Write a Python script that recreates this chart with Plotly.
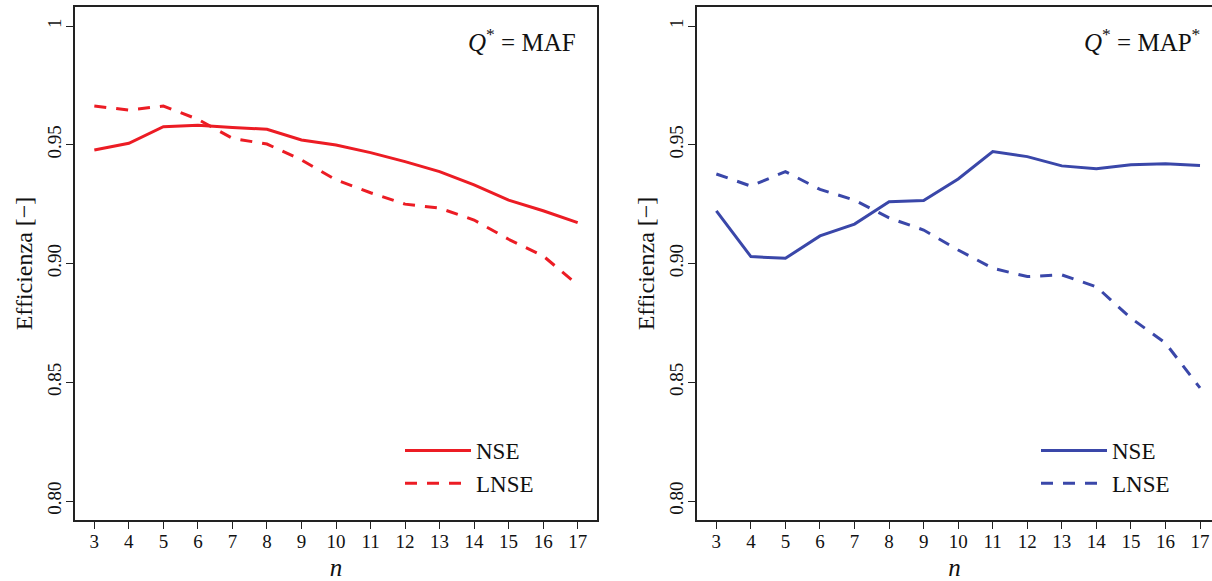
import plotly.graph_objects as go

n_vals = list(range(3, 18))

maf_nse = [0.9478, 0.9506, 0.9576, 0.9582, 0.9573, 0.9565, 0.9520, 0.9499,
           0.9467, 0.9429, 0.9387, 0.9331, 0.9267, 0.9222, 0.9172]
maf_lnse = [0.9663, 0.9646, 0.9663, 0.9607, 0.9527, 0.9503, 0.9436, 0.9352,
            0.9298, 0.9250, 0.9233, 0.9183, 0.9102, 0.9032, 0.8910]
map_nse = [0.9222, 0.9029, 0.9022, 0.9116, 0.9166, 0.9260, 0.9265, 0.9356,
           0.9471, 0.9450, 0.9411, 0.9399, 0.9416, 0.9420, 0.9413]
map_lnse = [0.9377, 0.9326, 0.9387, 0.9312, 0.9267, 0.9192, 0.9141, 0.9057,
            0.8980, 0.8945, 0.8952, 0.8902, 0.8770, 0.8665, 0.8476]

y_ticks = [0.80, 0.85, 0.90, 0.95, 1.0]
y_ticktext = ["0.80", "0.85", "0.90", "0.95", "1"]
series_names = ["NSE", "LNSE"]
panel_titles = ["<i>Q</i><sup>*</sup> = MAF", "<i>Q</i><sup>*</sup> = MAP<sup>*</sup>"]

RED = "#EC1C24"
BLUE = "#3A47A9"
FONT = "Liberation Serif"
W, H = 1212, 581

fig = go.Figure()

def add(x, y, color, dash, name, xa, ya, legend):
    fig.add_trace(go.Scatter(
        x=x, y=y, mode="lines", name=name,
        line=dict(color=color, width=3, dash=dash),
        xaxis=xa, yaxis=ya, legend=legend, showlegend=True))

add(n_vals, maf_nse, RED, "solid", series_names[0], "x", "y", "legend")
add(n_vals, maf_lnse, RED, "12px,10px", series_names[1], "x", "y", "legend")
add(n_vals, map_nse, BLUE, "solid", series_names[0], "x2", "y2", "legend2")
add(n_vals, map_lnse, BLUE, "12px,10px", series_names[1], "x2", "y2", "legend2")

ydom = [(H - 520) / H, (H - 7) / H]
xcommon = dict(
    tickmode="array", tickvals=n_vals, ticktext=[str(v) for v in n_vals],
    ticks="outside", ticklen=7, tickwidth=1.2, tickcolor="#222",
    showline=True, linecolor="#222", linewidth=1.5, showgrid=False, zeroline=False,
    tickfont=dict(family=FONT, size=19, color="#111"), ticklabelstandoff=-4,
    title=dict(text="<i>n</i>", font=dict(family=FONT, size=25, color="#111"), standoff=10),
)
ycommon = dict(
    range=[0.792, 1.008], domain=ydom,
    tickmode="array", tickvals=y_ticks, ticktext=y_ticktext, tickangle=-90,
    ticks="outside", ticklen=7, tickwidth=1.2, tickcolor="#222",
    showline=True, linecolor="#222", linewidth=1.5, showgrid=False, zeroline=False,
    tickfont=dict(family=FONT, size=19, color="#111"), ticklabelstandoff=-2,
    title=dict(text="Efficienza [−]", font=dict(family=FONT, size=24, color="#111"), standoff=4),
)

legend_common = dict(xanchor="left", yanchor="top", bgcolor="rgba(0,0,0,0)",
                     font=dict(family=FONT, size=23, color="#111"),
                     tracegroupgap=0, itemwidth=66)

fig.update_layout(
    width=W, height=H, margin=dict(l=0, r=0, t=0, b=0),
    paper_bgcolor="white", plot_bgcolor="white",
    xaxis=dict(domain=[75 / W, 597 / W], range=[2.44, 17.56], mirror=True, anchor="y", **xcommon),
    yaxis=dict(anchor="x", mirror=True, **ycommon),
    xaxis2=dict(domain=[697 / W, 1.0], range=[2.44, 17 + 12 / 34.57], mirror=True, anchor="y2", **xcommon),
    yaxis2=dict(anchor="x2", mirror=False, **ycommon),
    legend=dict(x=400 / W, y=1 - 429 / H, **legend_common),
    legend2=dict(x=1036 / W, y=1 - 429 / H, **legend_common),
    annotations=[
        dict(text=panel_titles[0], xref="paper", yref="paper", x=578 / W, y=1 - 40 / H,
             xanchor="right", yanchor="middle", showarrow=False,
             font=dict(family=FONT, size=25, color="#111")),
        dict(text=panel_titles[1], xref="paper", yref="paper", x=1202 / W, y=1 - 40 / H,
             xanchor="right", yanchor="middle", showarrow=False,
             font=dict(family=FONT, size=25, color="#111")),
    ],
)

fig.write_html("out.html", config={"displayModeBar": False},
               post_script="document.body.style.margin='0';document.body.style.overflow='hidden';")
